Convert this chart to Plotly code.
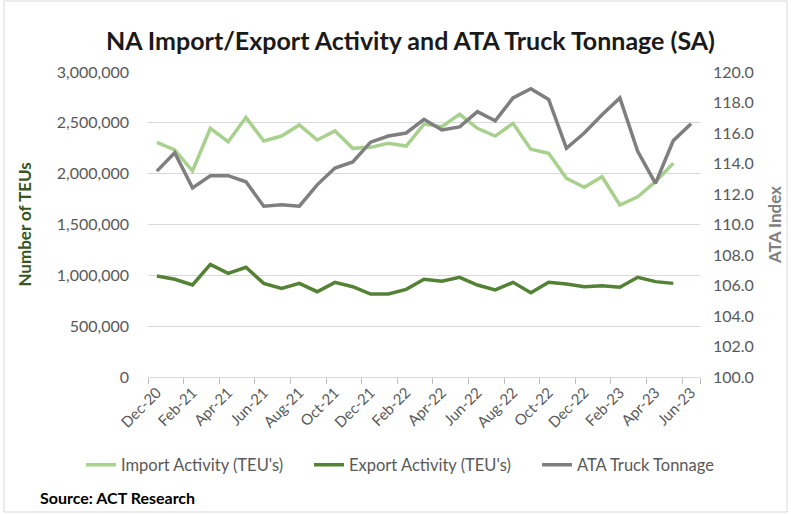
import plotly.graph_objects as go

months = ["Dec-20", "Jan-21", "Feb-21", "Mar-21", "Apr-21", "May-21", "Jun-21", "Jul-21",
          "Aug-21", "Sep-21", "Oct-21", "Nov-21", "Dec-21", "Jan-22", "Feb-22", "Mar-22",
          "Apr-22", "May-22", "Jun-22", "Jul-22", "Aug-22", "Sep-22", "Oct-22", "Nov-22",
          "Dec-22", "Jan-23", "Feb-23", "Mar-23", "Apr-23", "May-23", "Jun-23"]

import_teu = [2308000, 2233000, 2026000, 2446000, 2314000, 2554000, 2321000, 2370000,
              2479000, 2331000, 2420000, 2249000, 2259000, 2299000, 2272000, 2488000,
              2462000, 2584000, 2446000, 2370000, 2495000, 2240000, 2200000, 1954000,
              1866000, 1970000, 1692000, 1773000, 1921000, 2102000, None]

export_teu = [993000, 961000, 905000, 1108000, 1020000, 1079000, 921000, 872000,
              921000, 839000, 931000, 888000, 816000, 816000, 862000, 961000,
              942000, 981000, 905000, 856000, 931000, 829000, 931000, 915000,
              888000, 898000, 882000, 981000, 938000, 921000, None]

ata_tonnage = [113.5, 114.7, 112.4, 113.2, 113.2, 112.8, 111.2, 111.3,
               111.2, 112.6, 113.7, 114.1, 115.4, 115.8, 116.0, 116.9,
               116.2, 116.4, 117.4, 116.8, 118.3, 118.9, 118.2, 115.0,
               116.0, 117.2, 118.3, 114.8, 112.7, 115.5, 116.6]

tick_labels = months[::2]

FONT = "Lato"
GRAY_TXT = "#595959"

fig = go.Figure()
fig.add_trace(go.Scatter(x=months, y=import_teu, name="Import Activity (TEU's)",
                         mode="lines", line=dict(color="#a9d18e", width=3.5)))
fig.add_trace(go.Scatter(x=months, y=export_teu, name="Export Activity (TEU's)",
                         mode="lines", line=dict(color="#548235", width=3.5)))
fig.add_trace(go.Scatter(x=months, y=ata_tonnage, name="ATA Truck Tonnage",
                         mode="lines", line=dict(color="#7f7f7f", width=3.5), yaxis="y2"))

L, R, T, B = 148, 91, 72, 137
W, H = 791, 514
pw, ph = W - L - R, H - T - B

def px(x):
    return (x - L) / pw

def py(y):
    return (H - B - y) / ph

fig.update_layout(
    width=W, height=H,
    margin=dict(l=L, r=R, t=T, b=B, autoexpand=False),
    paper_bgcolor="white", plot_bgcolor="white",
    font=dict(family=FONT, color=GRAY_TXT, size=16),
    showlegend=True,
    legend=dict(orientation="h", x=px(81), xanchor="left", y=py(465), yanchor="middle",
                entrywidth=183, entrywidthmode="pixels",
                font=dict(size=16.5, color=GRAY_TXT), traceorder="normal"),
    xaxis=dict(type="category", categoryorder="array", categoryarray=months,
               range=[-0.5, 30.5], tickmode="array", tickvals=tick_labels, ticktext=tick_labels,
               tickangle=-45, showgrid=False, showline=True, linecolor="#d9d9d9", linewidth=1,
               ticks="outside", tickson="boundaries", ticklen=6, tickcolor="#bfbfbf",
               tickfont=dict(size=15, color=GRAY_TXT)),
    yaxis=dict(range=[0, 3000000], dtick=500000, tickformat=",", showgrid=True,
               gridcolor="#d9d9d9", gridwidth=1, zeroline=False, ticks="",
               ticklabelstandoff=18, tickfont=dict(size=16, color=GRAY_TXT),
               title=dict(text="<b>Number of TEUs</b>", standoff=20,
                          font=dict(size=17, color="#375623"))),
    yaxis2=dict(range=[100, 120], dtick=2, tickformat=".1f", overlaying="y", side="right",
                showgrid=False, zeroline=False, ticks="", ticklabelstandoff=12,
                tickfont=dict(size=16, color=GRAY_TXT),
                title=dict(text="<b>ATA Index</b>", standoff=16,
                           font=dict(size=17, color="#7f7f7f"))),
    annotations=[
        dict(text="<b>NA Import/Export Activity and ATA Truck Tonnage (SA)</b>",
             xref="paper", yref="paper", x=px(410), y=py(40), xanchor="center", yanchor="middle",
             showarrow=False, font=dict(size=25, color="#1a1a1a", family=FONT)),
        dict(text="<b>Source: ACT Research</b>", xref="paper", yref="paper",
             x=px(38), y=py(497), xanchor="left", yanchor="middle", showarrow=False,
             font=dict(size=16, color="#000000", family=FONT)),
    ],
    shapes=[
        dict(type="rect", xref="paper", yref="paper", x0=px(4), x1=px(787), y0=py(512), y1=py(1),
             line=dict(color="#d9d9d9", width=1), fillcolor="rgba(0,0,0,0)", layer="below"),
    ],
)

fig.write_html("out.html", config={"displayModeBar": False},
               post_script="document.body.style.margin='0';")
